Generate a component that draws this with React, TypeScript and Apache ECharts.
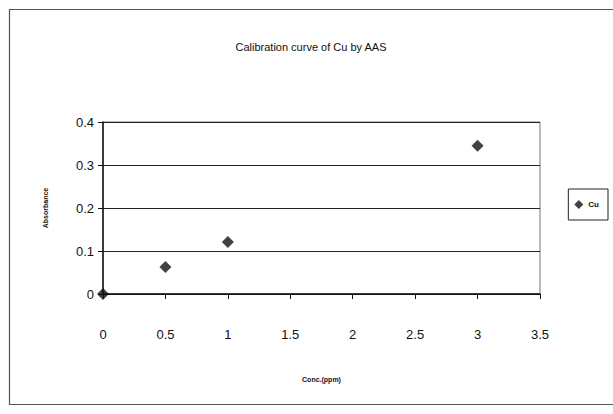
import React, { useEffect, useRef } from "react";
import * as echarts from "echarts";

const concentrations = [0, 0.5, 1, 3];
const absorbances = [0, 0.063, 0.121, 0.345];
const seriesName = "Cu";
const titleText = "Calibration curve of Cu by AAS";
const xAxisName = "Conc.(ppm)";
const yAxisName = "Absorbance";

export default function App() {
  const ref = useRef<HTMLDivElement>(null);
  useEffect(() => {
    if (!ref.current) return;
    const chart = echarts.init(ref.current, null, { renderer: "svg" });
    const font = "'Liberation Sans', Arial, sans-serif";
    chart.setOption({
      animation: false,
      backgroundColor: "#ffffff",
      textStyle: { fontFamily: font },
      title: {
        text: titleText,
        left: 306,
        textAlign: "center",
        top: 36,
        textStyle: { fontSize: 11, fontWeight: "normal", color: "#111", fontFamily: font },
      },
      graphic: [
        {
          type: "rect",
          shape: { x: 9.5, y: 9.5, width: 610, height: 395 },
          style: { fill: "none", stroke: "#555", lineWidth: 1.2 },
          silent: true,
        },
      ],
      legend: {
        right: 5,
        top: 189,
        orient: "vertical",
        data: [{ name: seriesName, icon: "diamond" }],
        itemWidth: 9,
        itemHeight: 9,
        itemGap: 4,
        padding: [11, 9, 11, 6],
        borderColor: "#222",
        borderWidth: 1,
        textStyle: { fontSize: 8, fontWeight: "bold", color: "#111", fontFamily: font },
      },
      grid: { left: 103, top: 122, width: 437, height: 172, containLabel: false, show: true, borderColor: "#777", borderWidth: 1 },
      xAxis: {
        type: "value",
        min: 0,
        max: 3.5,
        interval: 0.5,
        name: xAxisName,
        nameLocation: "middle",
        nameGap: 82,
        nameTextStyle: { fontSize: 7, fontWeight: "bold", color: "#111" },
        axisLine: { show: true, lineStyle: { color: "#111", width: 1.5 } },
        axisTick: { show: true, length: 5, lineStyle: { color: "#111" } },
        axisLabel: { fontSize: 13, color: "#111", margin: 34, fontFamily: font },
        splitLine: { show: false },
      },
      yAxis: {
        type: "value",
        min: 0,
        max: 0.4,
        interval: 0.1,
        name: yAxisName,
        nameLocation: "middle",
        nameGap: 54,
        nameRotate: 90,
        nameTextStyle: { fontSize: 7, fontWeight: "bold", color: "#111" },
        axisLine: { show: true, lineStyle: { color: "#111", width: 1.5 } },
        axisTick: { show: true, length: 5, lineStyle: { color: "#111" } },
        axisLabel: { fontSize: 13, color: "#111", margin: 9, fontFamily: font },
        splitLine: { show: true, lineStyle: { color: "#222", width: 1.2 } },
      },
      series: [
        {
          name: seriesName,
          type: "scatter",
          symbol: "diamond",
          symbolSize: 12,
          itemStyle: { color: "#111" },
          data: concentrations.map((c, i) => [c, absorbances[i]]),
        },
      ],
    });
    return () => chart.dispose();
  }, []);
  return (
    <div
      ref={ref}
      style={{ position: "absolute", left: 0, top: 0, width: 613, height: 414 }}
    />
  );
}
